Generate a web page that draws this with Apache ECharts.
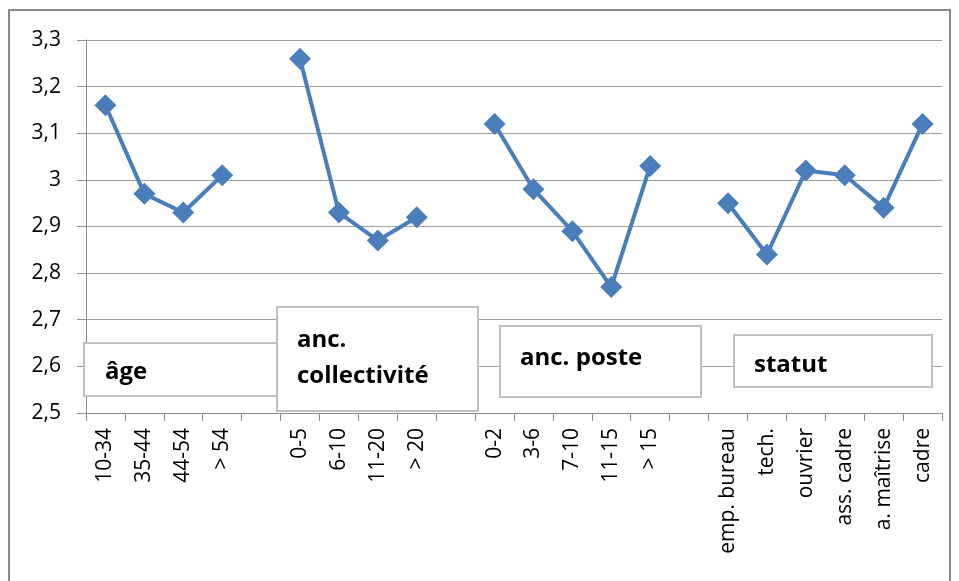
<!DOCTYPE html>
<html><head><meta charset="utf-8">
<script src="https://cdn.jsdelivr.net/npm/echarts@6/dist/echarts.min.js"></script>
<style>html,body{margin:0;padding:0;background:#fff}#c{width:959px;height:581px}</style>
</head><body><div id="c"></div>
<script>
const categories = ['10-34','35-44','44-54','> 54','',
  '0-5','6-10','11-20','> 20','',
  '0-2','3-6','7-10','11-15','> 15','',
  'emp. bureau','tech.','ouvrier','ass. cadre','a. maîtrise','cadre'];
const values = [3.16,2.97,2.93,3.01,null,
  3.26,2.93,2.87,2.92,null,
  3.12,2.98,2.89,2.77,3.03,null,
  2.95,2.84,3.02,3.01,2.94,3.12];
const groupLabels = ['âge','anc.\ncollectivité','anc. poste','statut'];
const yTicks = {min:2.5,max:3.3,interval:0.1};

const chart = echarts.init(document.getElementById('c'));
const font = 'Open Sans, Noto Sans, sans-serif';
function box(x,y,w,h,text,tx,ty){
  return {type:'group',children:[
    {type:'rect',shape:{x:x,y:y,width:w,height:h},style:{fill:'#fff',stroke:'#c0c0c0',lineWidth:2},z:10},
    {type:'text',x:tx,y:ty,style:{text:text,font:'bold 24px '+font,fill:'#000',lineHeight:36,verticalAlign:'middle'},z:11}
  ]};
}
chart.setOption({
  animation:false,
  grid:{left:86,right:17,top:40,bottom:168},
  xAxis:{type:'category',data:categories,boundaryGap:true,
    axisLine:{lineStyle:{color:'#8c8c8c',width:1}},
    axisTick:{show:true,interval:0,length:8,lineStyle:{color:'#8c8c8c'}},
    axisLabel:{interval:0,rotate:90,fontSize:21,color:'#000',fontFamily:font,margin:15}},
  yAxis:{type:'value',min:yTicks.min,max:yTicks.max,interval:yTicks.interval,
    axisLine:{show:true,lineStyle:{color:'#8c8c8c'}},
    axisTick:{show:true,length:9,lineStyle:{color:'#8c8c8c'}},
    splitLine:{lineStyle:{color:'#a0a0a0',width:1}},
    axisLabel:{fontSize:21,color:'#000',fontFamily:font,margin:25,
      formatter:v=>String(Math.round(v*10)/10).replace('.',',')}},
  series:[{type:'line',data:values,connectNulls:false,symbol:'diamond',symbolSize:22,
    lineStyle:{color:'#4a7ebb',width:4},itemStyle:{color:'#4a7ebb'}}],
  graphic:[
    {type:'rect',shape:{x:9,y:10,width:941,height:600},style:{fill:'none',stroke:'#8a8a8a',lineWidth:2},z:20,silent:true},
    box(84,343,196,53,groupLabels[0],105,372),
    box(277,307,201,104,groupLabels[1],297,358),
    box(500,326,201,71,groupLabels[2],520,358),
    box(734,335,198,52,groupLabels[3],754,365)
  ]
});
</script></body></html>
